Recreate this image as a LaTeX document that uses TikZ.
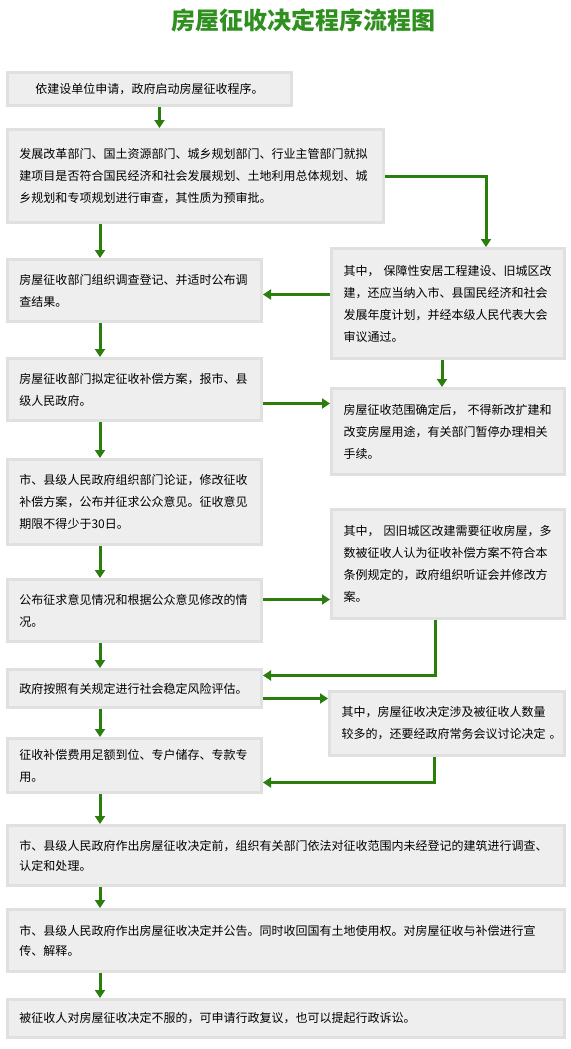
\documentclass[tikz,border=0pt]{standalone}
\usepackage{fontspec}
\usepackage{tikz}
\usetikzlibrary{arrows.meta}
\newfontfamily\zscjk{Noto Sans CJK SC}
\definecolor{zsfill} {HTML}{EEEEEE}
\definecolor{zsrule} {HTML}{E0E0E0}
\definecolor{zsgreen}{HTML}{2A7E0C}
\definecolor{zstitle}{HTML}{2F8F1F}

\begin{document}
\begin{tikzpicture}[x=1pt, y=-1pt,
    zsstep/.style={draw=zsrule, line width=3pt, fill=zsfill, anchor=north west,
      align=left, inner xsep=12pt, inner ysep=0pt,
      font=\zscjk\fontsize{12pt}{22pt}\selectfont},
    zswide/.style={zsstep, text width=533pt,
      font=\zscjk\fontsize{12pt}{20pt}\selectfont},
    zsflow/.style={draw=zsgreen, line width=3pt, -{Triangle[length=8pt,width=10pt]}}]
  \useasboundingbox (0,0) rectangle (570,1049);
  \node[font=\zscjk\bfseries\fontsize{24pt}{24pt}\selectfont, text=zstitle]
    (title) at (303,20) {房屋征收决定程序流程图};
  \coordinate (lc) at (100,0);
  % left column
  \node[zsstep, align=center, text width=260pt, minimum height=33pt] (b1) at (6,71)
    {依建设单位申请，政府启动房屋征收程序。};
  \node[zsstep, text width=352pt, minimum height=93pt] (b2) at (6,128)
    {发展改革部门、国土资源部门、城乡规划部门、行业主管部门就拟\\
     建项目是否符合国民经济和社会发展规划、土地利用总体规划、城\\
     乡规划和专项规划进行审查，其性质为预审批。};
  \node[zsstep, text width=230pt, minimum height=62pt] (b3) at (6,258)
    {房屋征收部门组织调查登记、并适时公布调\\查结果。};
  \node[zsstep, text width=230pt, minimum height=62pt] (b4) at (6,357)
    {房屋征收部门拟定征收补偿方案，报市、县\\级人民政府。};
  \node[zsstep, text width=230pt, minimum height=85pt] (b5) at (6,458)
    {市、县级人民政府组织部门论证，修改征收\\
     补偿方案，公布并征求公众意见。征收意见\\
     期限不得少于30日。};
  \node[zsstep, text width=230pt, minimum height=62pt] (b6) at (6,578)
    {公布征求意见情况和根据公众意见修改的情\\况。};
  \node[zsstep, text width=230pt, minimum height=38pt] (b7) at (6,668)
    {政府按照有关规定进行社会稳定风险评估。};
  \node[zsstep, text width=230pt, minimum height=54pt] (b8) at (6,737)
    {征收补偿费用足额到位、专户储存、专款专\\用。};
  \node[zswide, minimum height=60pt] (b9) at (6,824)
    {市、县级人民政府作出房屋征收决定前，组织有关部门依法对征收范围内未经登记的建筑进行调查、\\
     认定和处理。};
  \node[zswide, minimum height=62pt] (b10) at (6,908)
    {市、县级人民政府作出房屋征收决定并公告。同时收回国有土地使用权。对房屋征收与补偿进行宣\\
     传、解释。};
  \node[zswide, minimum height=38pt] (b11) at (6,998)
    {被征收人对房屋征收决定不服的，可申请行政复议，也可以提起行政诉讼。};
  % right column
  \node[zsstep, text width=209pt, minimum height=110pt] (r1) at (330,247)
    {其中， 保障性安居工程建设、旧城区改\\
     建，还应当纳入市、县国民经济和社会\\
     发展年度计划，并经本级人民代表大会\\
     审议通过。};
  \node[zsstep, text width=209pt, minimum height=86pt] (r2) at (330,387)
    {房屋征收范围确定后， 不得新改扩建和\\
     改变房屋用途，有关部门暂停办理相关\\
     手续。};
  \node[zsstep, text width=209pt, minimum height=109pt] (r3) at (330,508)
    {其中， 因旧城区改建需要征收房屋，多\\
     数被征收人认为征收补偿方案不符合本\\
     条例规定的，政府组织听证会并修改方\\
     案。};
  \node[zsstep, text width=211pt, minimum height=64pt] (r4) at (328,690)
    {其中，房屋征收决定涉及被征收人数量\\
     \mbox{较多的，还要经政府常务会议讨论决定 。}};
  % connectors
  \draw[zsflow] ([xshift=10pt]b1.south) -- ([xshift=10pt]b1.south |- b2.north);
  \draw[zsflow] (b2.south -| lc) -- (b3.north -| lc);
  \draw[zsflow] (b2.east) -| ([xshift=38pt]r1.north);
  \draw[zsflow] ([yshift=9pt]r1.west) -- ([yshift=9pt]r1.west -| b3.east);
  \draw[zsflow] (b3.south -| lc) -- (b4.north -| lc);
  \draw[zsflow] ([xshift=-6pt]r1.south) -- ([xshift=-6pt]r1.south |- r2.north);
  \draw[zsflow] ([yshift=-14pt]b4.east) -- ([yshift=-14pt]b4.east -| r2.west);
  \draw[zsflow] (b4.south -| lc) -- (b5.north -| lc);
  \draw[zsflow] (b5.south -| lc) -- (b6.north -| lc);
  \draw[zsflow] ([yshift=11pt]b6.east) -- ([yshift=11pt]b6.east -| r3.west);
  \draw[zsflow] ([xshift=-13pt]r3.south) |- ([yshift=13pt]b7.east);
  \draw[zsflow] (b6.south -| lc) -- (b7.north -| lc);
  \draw[zsflow] ([yshift=-10pt]b7.east) -- ([yshift=-10pt]b7.east -| r4.west);
  \draw[zsflow] ([xshift=-13pt]r4.south) |- ([yshift=-17pt]b8.east);
  \draw[zsflow] (b7.south -| lc) -- (b8.north -| lc);
  \draw[zsflow] (b8.south -| lc) -- (b9.north -| lc);
  \draw[zsflow] (b9.south -| lc) -- (b10.north -| lc);
  \draw[zsflow] (b10.south -| lc) -- (b11.north -| lc);
\end{tikzpicture}
\end{document}
